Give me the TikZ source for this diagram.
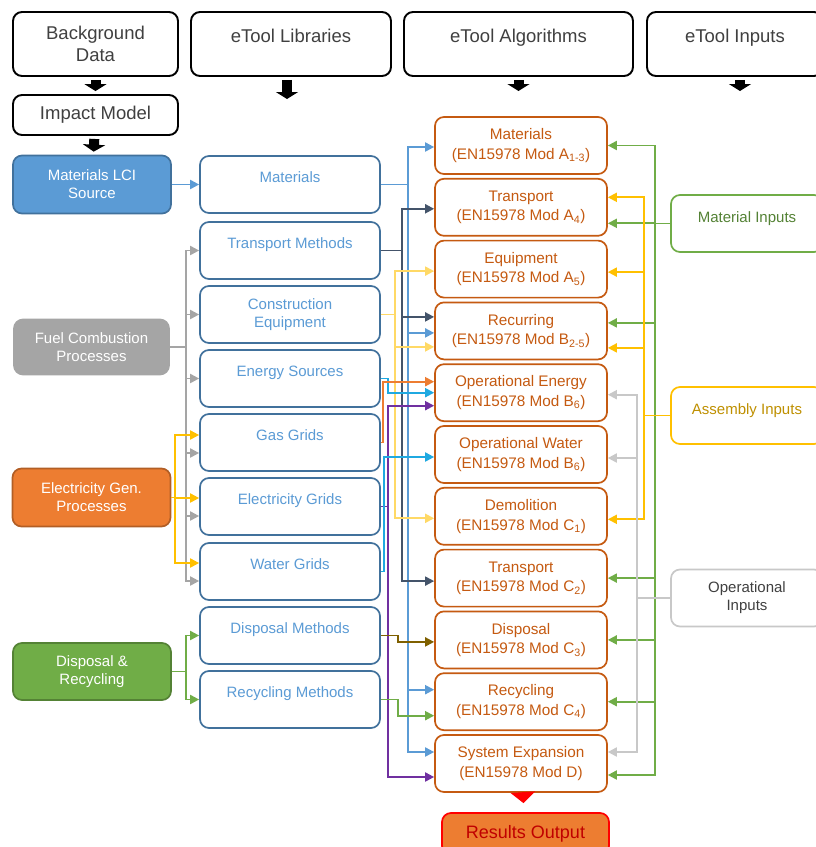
\documentclass[tikz,border=0pt]{standalone}
\usepackage{fontspec}
\setmainfont{Liberation Sans}
\usetikzlibrary{arrows.meta}

\definecolor{txtgray}{HTML}{404040}
\definecolor{libblue}{HTML}{5B9BD5}
\definecolor{libedge}{HTML}{41719C}
\definecolor{algorange}{HTML}{C55A11}
\definecolor{srcorange}{HTML}{ED7D31}
\definecolor{srcgray}{HTML}{A5A5A5}
\definecolor{srcgreen}{HTML}{70AD47}
\definecolor{textgreen}{HTML}{548235}
\definecolor{linenavy}{HTML}{44546A}
\definecolor{lineyellow}{HTML}{FFD966}
\definecolor{linecyan}{HTML}{1FA9E1}
\definecolor{linepurple}{HTML}{7030A0}
\definecolor{linebrown}{HTML}{7F6000}
\definecolor{amber}{HTML}{FFC000}
\definecolor{amberdark}{HTML}{BF9000}
\definecolor{opgray}{HTML}{C8C8C8}
\definecolor{resultred}{HTML}{C00000}

\newcommand\hdfont{\fontsize{18.5}{22.5}\selectfont}
\newcommand\libfont{\fontsize{15}{18}\selectfont}
\newcommand\algfont{\fontsize{15.3}{19.5}\selectfont}

\tikzset{
  box/.style={rounded corners=9pt, line width=1.7pt, fill=white, align=center, inner sep=0pt},
  hdbox/.style={box, draw=black, line width=1.9pt, text=txtgray, font=\hdfont},
  hdtop/.style={text height=30pt, text depth=34pt},
  srcbox/.style={box, font=\libfont, text=white, minimum width=158pt, minimum height=58pt},
  libbox/.style={box, draw=libedge, text=libblue, font=\libfont, minimum width=180pt, minimum height=57pt},
  libtop/.style={text height=26.5pt, text depth=30.5pt},
  algbox/.style={box, draw=algorange, text=algorange, font=\algfont, minimum width=172pt, minimum height=57pt},
  inbox/.style={box, font=\libfont, minimum width=152pt, minimum height=57pt},
  intop/.style={text height=27pt, text depth=30pt},
  blockarr/.style={line width=10pt, -{Triangle[length=7pt,width=22pt]}, shorten <=3pt},
  arr/.style={line width=1.9pt, -{Triangle[length=9pt,width=9pt]}}
}

\begin{document}
\begin{tikzpicture}[x=1pt, y=-1pt]
\useasboundingbox (0,0) rectangle (816,847);
\fill[white] (0,0) rectangle (816,847);
\clip (0,0) rectangle (816,847);

% column headers
\node[hdbox, minimum width=165pt, minimum height=64pt] (bgd) at (95.5,44) {Background\\Data};
\node[hdbox, hdtop, minimum width=200pt] (libhead) at (291,44) {eTool Libraries};
\node[hdbox, hdtop, minimum width=229pt] (alghead) at (518.5,44) {eTool Algorithms};
\node[hdbox, hdtop, minimum width=176pt] (inhead) at (735,44) {eTool Inputs};
\node[hdbox, minimum width=165pt, minimum height=40pt] (impact) at (95.5,115) {Impact Model};

\coordinate (libtip) at (287,99);
\coordinate (algtip) at (518.5,91);
\coordinate (intip) at (740,91);

% background data sources
\node[srcbox, draw=libedge, fill=libblue] (lci) at (92,184.5) {Materials LCI\\Source};
\node[srcbox, draw=srcgray, fill=srcgray, minimum width=155pt, minimum height=55pt] (fuel) at (91.5,347) {Fuel Combustion\\Processes};
\node[srcbox, draw=srcorange!75!black, fill=srcorange] (elecgen) at (91.5,497.5) {Electricity Gen.\\Processes};
\node[srcbox, draw=srcgreen!75!black, fill=srcgreen, minimum height=57pt] (disrec) at (92,671.5) {Disposal \&\\Recycling};

% libraries
\node[libbox, libtop] (matlib) at (290,184.5) {Materials};
\node[libbox, libtop] (translib) at (290,250.5) {Transport Methods};
\node[libbox] (conlib) at (290,314.5) {Construction\\Equipment};
\node[libbox, libtop] (enlib) at (290,378.5) {Energy Sources};
\node[libbox, libtop] (gaslib) at (290,442.5) {Gas Grids};
\node[libbox, libtop] (eleclib) at (290,506.5) {Electricity Grids};
\node[libbox, libtop] (waterlib) at (290,571.5) {Water Grids};
\node[libbox, libtop] (displib) at (290,635.5) {Disposal Methods};
\node[libbox, libtop] (rcylib) at (290,699.5) {Recycling Methods};

% algorithms
\node[algbox] (algmat) at (521,145.5) {Materials\\(EN15978 Mod A\textsubscript{1-3})};
\node[algbox] (algtra) at (521,207.3) {Transport\\(EN15978 Mod A\textsubscript{4})};
\node[algbox] (algequ) at (521,269.1) {Equipment\\(EN15978 Mod A\textsubscript{5})};
\node[algbox] (algrec) at (521,330.9) {Recurring\\(EN15978 Mod B\textsubscript{2-5})};
\node[algbox] (algope) at (521,392.7) {Operational Energy\\(EN15978 Mod B\textsubscript{6})};
\node[algbox] (algopw) at (521,454.5) {Operational Water\\(EN15978 Mod B\textsubscript{6})};
\node[algbox] (algdem) at (521,516.3) {Demolition\\(EN15978 Mod C\textsubscript{1})};
\node[algbox] (algtrc) at (521,578.1) {Transport\\(EN15978 Mod C\textsubscript{2})};
\node[algbox] (algdis) at (521,639.9) {Disposal\\(EN15978 Mod C\textsubscript{3})};
\node[algbox] (algrcy) at (521,701.7) {Recycling\\(EN15978 Mod C\textsubscript{4})};
\node[algbox] (algsys) at (521,763.5) {System Expansion\\(EN15978 Mod D)};
\node[box, draw=red, fill=srcorange, text=resultred, font=\fontsize{18}{20}\selectfont,
      minimum width=167pt, minimum height=42pt] (results) at (525.5,834) {Results Output};

% inputs
\node[inbox, intop, draw=srcgreen, text=textgreen] (matin) at (747,223.5) {Material Inputs};
\node[inbox, intop, draw=amber, text=amberdark] (asmin) at (747,415.5) {Assembly Inputs};
\node[inbox, draw=opgray, text=txtgray] (opin) at (747,598) {Operational\\Inputs};

% header arrows
\draw[blockarr, shorten >=3pt] (bgd) -- (impact);
\draw[blockarr, shorten >=3pt] (impact) -- (lci);
\draw[blockarr] (libhead.south -| libtip) -- (libtip);
\draw[blockarr] (alghead.south -| algtip) -- (algtip);
\draw[blockarr] (inhead.south -| intip) -- (intip);
\draw[blockarr, red, shorten <=0pt, shorten >=9pt, -{Triangle[length=11pt,width=24pt]}] (algsys) -- (results);

% sources to libraries
\draw[arr, libblue] (lci) -- (matlib);
\foreach \t/\s in {translib/0, conlib/0, enlib/0, gaslib/-10.5, eleclib/-9.5, waterlib/-9.5}
  \draw[arr, srcgray] (fuel.east) -- ++(16,0) |- ([yshift=\s pt]\t.west);
\foreach \t/\s in {gaslib/7.5, eleclib/8.5, waterlib/8.5}
  \draw[arr, amber] (elecgen.east) -- ++(4,0) |- ([yshift=\s pt]\t.west);
\draw[arr, srcgreen] (disrec.east) -- ++(14,0) |- (displib.west);
\draw[arr, srcgreen] (disrec.east) -- ++(14,0) |- (rcylib.west);

% libraries to algorithms
\foreach \t/\s in {algmat/-1.5, algrec/-2, algrcy/12, algsys/11.5}
  \draw[arr, libblue] (matlib.east) -- ++(27,0) |- ([yshift=\s pt]\t.west);
\foreach \t/\s in {algtra/-1.5, algrec/14, algtrc/-3}
  \draw[arr, linenavy] (translib.east) -- ++(21,0) |- ([yshift=\s pt]\t.west);
\foreach \t/\s in {algequ/-2, algrec/-16, algdem/-2}
  \draw[arr, lineyellow] (conlib.east) -- ++(14,0) |- ([yshift=\s pt]\t.west);
\draw[arr, linecyan] (enlib.east) -- ++(7,0) |- (algope.west);
\draw[arr, srcorange] (gaslib.east) -- ++(2,0) |- ([yshift=11pt]algope.west);
\draw[arr, linepurple] (eleclib.east) -- ++(7,0) |- ([yshift=-13pt]algope.west);
\draw[arr, linepurple] (eleclib.east) -- ++(7,0) |- ([yshift=-13.5pt]algsys.west);
\draw[arr, linecyan] (waterlib.east) -- ++(3,0) |- ([yshift=-2.5pt]algopw.west);
\draw[arr, linebrown] (displib.east) -- ++(17,0) |- ([yshift=-2pt]algdis.west);
\draw[arr, srcgreen] (rcylib.east) -- ++(17,0) |- ([yshift=-14pt]algrcy.west);

% inputs to algorithms
\foreach \t/\s in {algmat/0, algtra/-16, algrec/8, algtrc/0, algdis/0, algrcy/0, algsys/-11.5}
  \draw[arr, srcgreen] (matin.west) -- ++(-15,0) |- ([yshift=\s pt]\t.east);
\foreach \t/\s in {algtra/10, algequ/-3, algrec/-17, algdem/-3}
  \draw[arr, amber] (asmin.west) -- ++(-26,0) |- ([yshift=\s pt]\t.east);
\foreach \t/\s in {algope/-2, algopw/-3.5, algsys/11.5}
  \draw[arr, opgray] (opin.west) -- ++(-33,0) |- ([yshift=\s pt]\t.east);
\end{tikzpicture}
\end{document}
